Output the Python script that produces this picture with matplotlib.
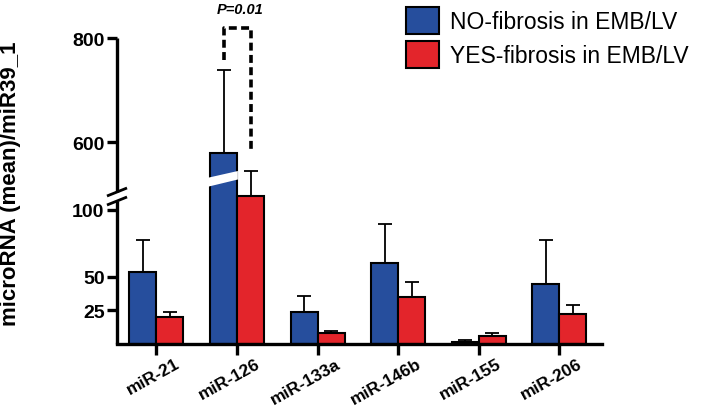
import numpy as np
import matplotlib
matplotlib.use('Agg')
import matplotlib.pyplot as plt
from matplotlib.patches import Polygon
from matplotlib.transforms import blended_transform_factory, ScaledTranslation

plt.rcParams['font.family'] = ['Liberation Sans', 'DejaVu Sans']

# data
categories = ['miR-21', 'miR-126', 'miR-133a', 'miR-146b', 'miR-155', 'miR-206']
no_fibrosis = [53.5, 579, 23.6, 60.3, 1.5, 44.4]
no_fibrosis_err = [23.9, 160, 12.4, 29.3, 1.5, 33.0]
yes_fibrosis = [20.3, 110, 8.0, 35.0, 6.0, 22.3]
yes_fibrosis_err = [3.7, 435, 1.9, 11.4, 2.2, 6.7]
series_labels = ['NO-fibrosis in EMB/LV', 'YES-fibrosis in EMB/LV']
lower_ticks = [25, 50, 100]
upper_ticks = [600, 800]
# significance bracket on miR-126: top, left leg end, right leg end
bracket = [820, 758, 579]
p_text = 'P=0.01'

blue = '#264e9d'
red = '#e3252b'

# broken y axis: 0-115 normal, 115-510 squeezed, above 510 compressed
y_pts = np.array([-1000.0, 115.0, 510.0, 3000.0])
t_pts = np.array([-1343.0, 154.4, 155.0, 155.0 + 0.52 * 2490])


def forward(y):
    return np.interp(y, y_pts, t_pts)


def inverse(t):
    return np.interp(t, t_pts, y_pts)


fig = plt.figure(figsize=(7.09, 4.10), dpi=100)
ymax = 830
ax_h = forward(ymax)
ax = fig.add_axes([117 / 709, 65 / 410, 485 / 709, ax_h / 410])
ax.set_yscale('function', functions=(forward, inverse))

x = np.arange(len(categories))
w = 0.335
err_kw = dict(ecolor='black', elinewidth=1.3, capsize=4.7, capthick=1.3)
ax.bar(x - w / 2, no_fibrosis, w, color=blue, edgecolor='black', linewidth=1.5,
       yerr=[np.zeros(len(x)), no_fibrosis_err], error_kw=err_kw, zorder=2)
ax.bar(x + w / 2, yes_fibrosis, w, color=red, edgecolor='black', linewidth=1.5,
       yerr=[np.zeros(len(x)), yes_fibrosis_err], error_kw=err_kw, zorder=2)

ax.set_xlim(-0.49, 5.53)
ax.set_ylim(0, ymax)

# white slanted cut through the tall miR-126 bar
bt = blended_transform_factory(ax.transData, ax.transAxes)
i126 = categories.index('miR-126')
x0, x1 = i126 - w - 0.04, i126 + 0.01
cut = Polygon([[x0, (345 - 188) / ax_h], [x1, (345 - 180.5) / ax_h],
               [x1, (345 - 172) / ax_h], [x0, (345 - 179) / ax_h]],
              closed=True, facecolor='white', edgecolor='none',
              transform=bt, zorder=3)
ax.add_patch(cut)

# dashed significance bracket
xl, xr = i126 - w / 2, i126 + w / 2
ax.plot([xl, xl, xr, xr], [bracket[1], bracket[0], bracket[0], bracket[2]],
        color='black', lw=2.6, ls=(0, (2.2, 1.2)), zorder=4, clip_on=False)
ax.text(i126 + 0.04, 842, p_text, ha='center', va='bottom', fontsize=10.5,
        fontweight='bold', fontstyle='italic', clip_on=False)

# spines
for s in ['top', 'right', 'left']:
    ax.spines[s].set_visible(False)
ax.spines['bottom'].set_linewidth(2.4)
ya = blended_transform_factory(ax.transAxes, ax.transAxes)
up_lo = (345 - 193) / ax_h
up_hi = forward(800) / ax_h
lo_hi = (345 - 202) / ax_h
ax.plot([0, 0], [up_lo, up_hi], color='black', lw=2.4, transform=ya,
        clip_on=False, solid_capstyle='butt')
ax.plot([0, 0], [0, lo_hi], color='black', lw=2.4, transform=ya,
        clip_on=False, solid_capstyle='butt')
dx, dy = 0.018, 3.5 / ax_h
for yb in [up_lo, lo_hi]:
    ax.plot([-dx, dx], [yb - dy, yb + dy], color='black', lw=2.0,
            transform=ya, clip_on=False)

ax.set_yticks(lower_ticks + upper_ticks)
ax.set_yticklabels([str(v) for v in lower_ticks + upper_ticks],
                   fontsize=14, fontweight='bold')
ax.tick_params(axis='y', length=7, width=2.4, pad=2)
ax.set_xticks(x)
ax.set_xticklabels(categories, rotation=29, ha='right', rotation_mode='anchor',
                   fontsize=12.5, fontweight='bold')
ax.tick_params(axis='x', length=8, width=2.4, pad=0.5)
shift = ScaledTranslation(18 / 100, 0, fig.dpi_scale_trans)
for lab in ax.get_xticklabels():
    lab.set_transform(lab.get_transform() + shift)
ax.minorticks_off()

fig.text(11 / 709, 1 - 184 / 410, 'microRNA (mean)/miR39_1', rotation=90,
         ha='center', va='center', fontsize=16, fontweight='bold')

handles = [plt.Rectangle((0, 0), 1, 1, facecolor=c, edgecolor='black', lw=1.5)
           for c in [blue, red]]
fig.legend(handles, series_labels, loc='upper left',
           bbox_to_anchor=(406 / 709, 1 - 8 / 410), frameon=False,
           fontsize=16.5, handlelength=1.43, handleheight=1.43,
           handletextpad=0.5, labelspacing=0.3, borderpad=0,
           borderaxespad=0)

fig.savefig('out.png', dpi=100)
